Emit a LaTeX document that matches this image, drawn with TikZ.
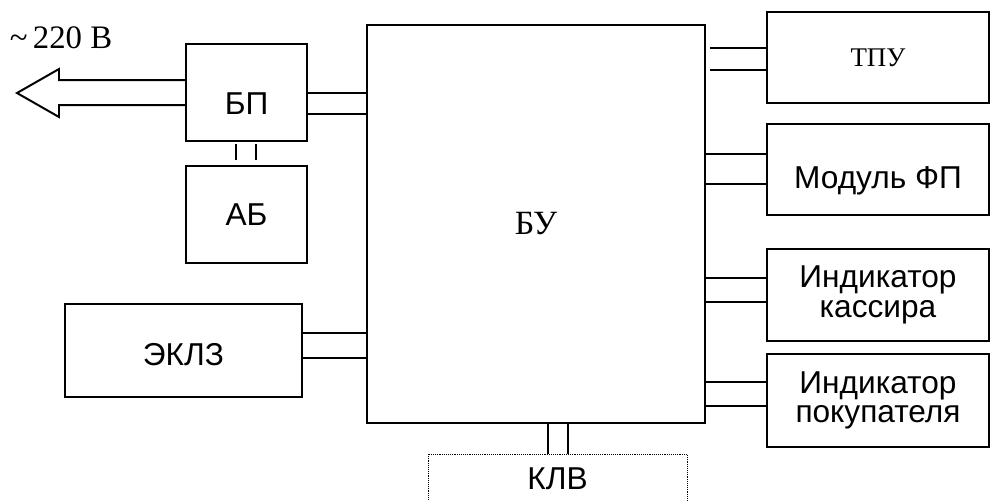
\documentclass[tikz,border=0pt]{standalone}
\usepackage{fontspec}
\setmainfont{Liberation Sans}
\newfontfamily\timesfont{Liberation Serif}
\usetikzlibrary{positioning,calc}

\begin{document}
\begin{tikzpicture}[
        unit/.style={draw,line width=1.7pt,inner sep=0pt,align=center,
                     font=\fontsize{27}{25}\selectfont},
        klvbox/.style={draw,densely dotted,line width=0.6pt,inner sep=0pt,
                     font=\fontsize{27}{25}\selectfont},
        bus/.style={line width=1.7pt}
    ]
        \useasboundingbox (0,0) rectangle (29.73,-15);
        % central block
        \node[unit,minimum width=10.14cm,minimum height=11.94cm,
              font=\timesfont\fontsize{29}{30}\selectfont] (bu) at (16.08,-6.72) {БУ};
        % left side
        \node[unit,minimum width=3.63cm,minimum height=2.91cm] (bp) at (7.395,-2.775)
            {\raisebox{-0.645cm}[0pt][0pt]{БП}};
        \node[unit,minimum width=3.63cm,minimum height=2.91cm] (ab) at (7.395,-6.435) {АБ};
        \node[unit,minimum width=7.11cm,minimum height=2.79cm] (eklz) at (5.505,-10.515)
            {\raisebox{-0.46cm}[0pt][0pt]{ЭКЛЗ}};
        \node[font=\timesfont\fontsize{28}{30}\selectfont] (mains) at (1.83,-1.14)
            {\textasciitilde\,220 В};
        % right side
        \node[unit,minimum width=6.66cm,minimum height=2.73cm,
              font=\timesfont\fontsize{23}{24}\selectfont] (tpu) at (26.34,-1.725) {ТПУ};
        \node[unit,minimum width=6.66cm,minimum height=2.73cm] (fp) at (26.34,-5.085)
            {\raisebox{-0.555cm}[0pt][0pt]{Модуль ФП}};
        \node[unit,minimum width=6.66cm,minimum height=2.76cm] (indk) at (26.34,-8.85)
            {Индикатор\\кассира};
        \node[unit,minimum width=6.66cm,minimum height=2.79cm] (indp) at (26.34,-12.015)
            {Индикатор\\покупателя};
        % bottom
        \node[klvbox,minimum width=7.77cm,minimum height=1.5cm] (klv) at (16.725,-14.37) {КЛВ};

        % mains arrow
        \draw[bus] ($(bp.west)+(0,0.375)$) -- (1.77,-2.4) -- (1.77,-2.07) -- (0.51,-2.79)
            -- (1.77,-3.51) -- (1.77,-3.15) -- ($(bp.west)+(0,-0.375)$);
        % double lines
        \foreach \dy in {0,-0.63}
            \draw[bus] (bp.east) ++(0,\dy) coordinate (p) -- (p -| bu.west);
        \foreach \dy in {0.525,-0.225}
            \draw[bus] (eklz.east) ++(0,\dy) coordinate (p) -- (p -| bu.west);
        \foreach \dy in {0.285,-0.375}
            \draw[bus,shorten >=0.12cm] (tpu.west) ++(0,\dy) coordinate (p) -- (p -| bu.east);
        \foreach \dy in {0.465,-0.435}
            \draw[bus] (fp.west) ++(0,\dy) coordinate (p) -- (p -| bu.east);
        \foreach \dy in {0.51,-0.21}
            \draw[bus] (indk.west) ++(0,\dy) coordinate (p) -- (p -| bu.east);
        \foreach \dy in {0.555,-0.165}
            \draw[bus] (indp.west) ++(0,\dy) coordinate (p) -- (p -| bu.east);
        \foreach \dx in {-0.315,0.285}
            \draw[bus,shorten <=2pt,shorten >=4pt] (bp.south) ++(\dx,0) coordinate (p) -- (p |- ab.north);
        \foreach \dx in {-0.285,0.315}
            \draw[bus] (klv.north) ++(\dx,0) coordinate (p) -- (p |- bu.south);
\end{tikzpicture}
\end{document}
